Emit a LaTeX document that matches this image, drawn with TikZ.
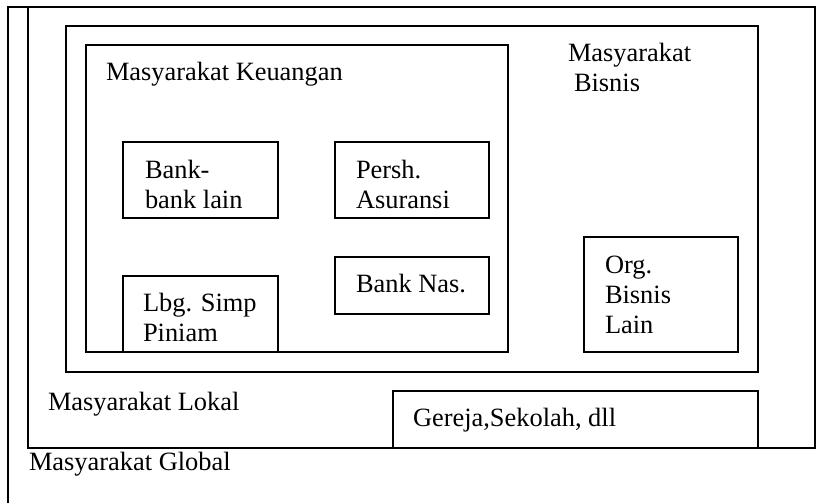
\documentclass[tikz,border=0pt]{standalone}
\usepackage{fontspec}
\setmainfont{Liberation Serif}
\begin{document}
\begin{tikzpicture}[x=1pt,y=-1pt,
  frameline/.style={draw, line width=1.2pt},
  box/.style={draw, line width=1.2pt, anchor=north west, inner sep=0pt, outer sep=0pt},
  lbl/.style={anchor=base west, inner sep=0pt, outer sep=0pt, align=left, font=\fontsize{26.4}{30}\selectfont}]
\useasboundingbox (0,0) rectangle (822,503);
% global frame (open at the bottom)
\coordinate (gbl) at (8,503);
\coordinate (gtl) at (8,7);
\coordinate (gtr) at (815,7);
\draw[frameline] (gbl) -- (gtl) -- (gtr);
% frames
\node[box, minimum width=787pt, minimum height=441pt] (lokal) at (28,7) {};
\node[box, minimum width=692pt, minimum height=346pt] (bisnis) at (66,26) {};
\node[box, minimum width=422pt, minimum height=307pt] (keuangan) at (86,45) {};
\node[box, minimum width=155pt, minimum height=76pt] (bankbox) at (123,142) {};
\node[box, minimum width=154pt, minimum height=76pt] (pershbox) at (335,142) {};
\node[box, minimum width=154pt, minimum height=57pt] (nasbox) at (335,257) {};
\node[box, minimum width=155pt, minimum height=76pt] (lbgbox) at (123,276) {};
\node[box, minimum width=154pt, minimum height=115pt] (orgbox) at (584,237) {};
\node[box, minimum width=365pt, minimum height=57pt] (gerejabox) at (393,391) {};
% labels (multi-line nodes: base = baseline of the last line)
\node[lbl] (tkeu) at (106,81) {Masyarakat Keuangan};
\node[lbl] (tbis) at (568,92) {Masyarakat\\\hspace*{6pt}Bisnis};
\node[lbl] (tbank) at (145,208) {Bank-\\bank lain};
\node[lbl] (tpersh) at (356,208) {Persh.\\Asuransi};
\node[lbl] (tnas) at (356,292) {Bank Nas.};
\node[lbl] (tlbg) at (143,341) {Lbg. Simp\\Piniam};
\node[lbl] (torg) at (605,333) {Org.\\Bisnis\\Lain};
\node[lbl] (tlok) at (48,410) {Masyarakat Lokal};
\node[lbl] (tglob) at (29,470) {Masyarakat Global};
\node[lbl] (tger) at (413,426) {Gereja,Sekolah, dll};
\end{tikzpicture}
\end{document}
